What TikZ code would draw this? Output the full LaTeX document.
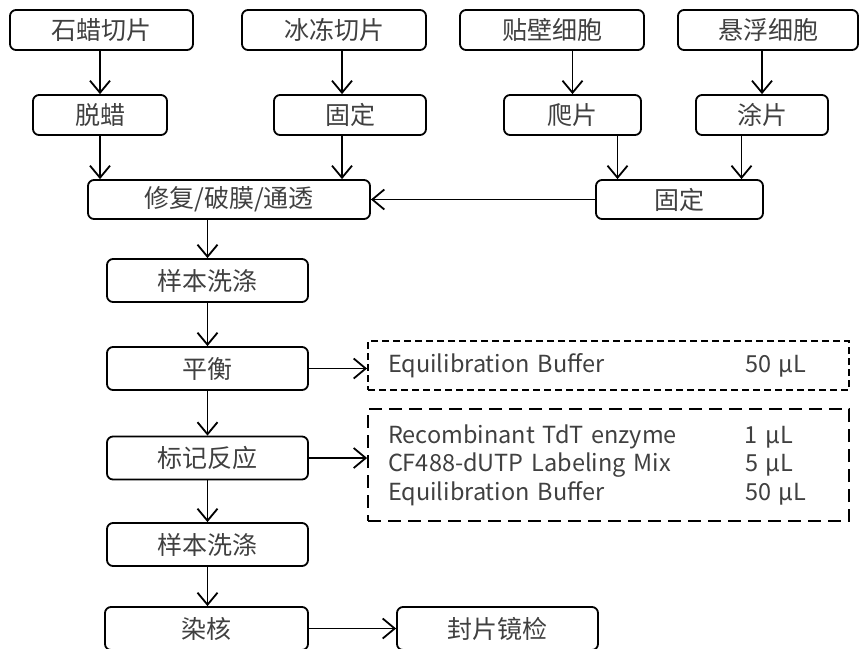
\documentclass[tikz,border=0pt]{standalone}
\usepackage{fontspec}
\setmainfont{Noto Sans CJK SC}
\usetikzlibrary{arrows.meta}
\definecolor{txtgray}{RGB}{64,64,64}
\tikzset{
  stepbox/.style={draw, rounded corners=6pt, line width=1.8pt, text=txtgray,
    font=\fontsize{25}{28}\selectfont, inner sep=0pt},
  reagent/.style={draw, line width=1.8pt, text=txtgray, align=left,
    font=\fontsize{23.5}{28.5}\selectfont, inner xsep=20pt, inner ysep=0pt, text width=441pt},
  arr/.style={-{Straight Barb[length=12pt,width=20pt]}, line width=1.8pt}
}

\begin{document}
\begin{tikzpicture}[x=1pt,y=-1pt]
\useasboundingbox (0,0) rectangle (859,648);
% sample types
\node[stepbox, minimum width=183pt, minimum height=40pt] (paraffin) at (101.5,30) {石蜡切片};
\node[stepbox, minimum width=184pt, minimum height=40pt] (frozen) at (334,30) {冰冻切片};
\node[stepbox, minimum width=184pt, minimum height=40pt] (adherent) at (552,30) {贴壁细胞};
\node[stepbox, minimum width=180pt, minimum height=40pt] (suspend) at (768,30) {悬浮细胞};
% pretreatment
\node[stepbox, minimum width=134pt, minimum height=40pt] (dewax) at (100,115) {脱蜡};
\node[stepbox, minimum width=152pt, minimum height=40pt] (fixA) at (350,115) {固定};
\node[stepbox, minimum width=137pt, minimum height=40pt] (climb) at (572.5,115) {爬片};
\node[stepbox, minimum width=132pt, minimum height=40pt] (smear) at (762,115) {涂片};
\node[stepbox, minimum width=282pt, minimum height=39pt] (repair) at (229,199.5) {修复/破膜/通透};
\node[stepbox, minimum width=167pt, minimum height=39pt] (fixB) at (679.5,199.5) {固定};
% main column
\node[stepbox, minimum width=201pt, minimum height=43pt] (wash1) at (207.5,280.5) {样本洗涤};
\node[stepbox, minimum width=201pt, minimum height=43pt] (balance) at (207.5,368.5) {平衡};
\node[stepbox, minimum width=201pt, minimum height=43pt] (label) at (207.5,458) {标记反应};
\node[stepbox, minimum width=201pt, minimum height=43pt] (wash2) at (207.5,544.5) {样本洗涤};
\node[stepbox, minimum width=203pt, minimum height=43pt] (stain) at (206.5,628.5) {染核};
\node[stepbox, minimum width=201pt, minimum height=43pt] (mount) at (497.5,628.5) {封片镜检};
% reagents
\node[reagent, dash pattern=on 7pt off 4pt, minimum height=49pt] (buf1) at (608.5,365.5)
  {\makebox[357pt][l]{Equilibration Buffer}50 µL};
\node[reagent, dash pattern=on 13pt off 7pt, minimum height=112pt] (buf2) at (608.5,465)
  {\makebox[357pt][l]{Recombinant TdT enzyme}1 µL\\
   \makebox[357pt][l]{CF488-dUTP Labeling Mix}5 µL\\
   \makebox[357pt][l]{Equilibration Buffer}50 µL};

\draw[arr] (paraffin.south -| dewax.north) -- (dewax.north);
\draw[arr] ([xshift=-8pt]fixA.north |- frozen.south) -- ([xshift=-8pt]fixA.north);
\draw[arr] (climb.north |- adherent.south) -- (climb.north);
\draw[arr] (smear.north |- suspend.south) -- (smear.north);
\draw[arr] (dewax.south) -- (dewax.south |- repair.north);
\draw[arr] ([xshift=-8pt]fixA.south) -- ([xshift=-8pt]fixA.south |- repair.north);
\draw[arr] ([xshift=-62pt]fixB.north |- climb.south) -- ([xshift=-62pt]fixB.north);
\draw[arr] ([xshift=62pt]fixB.north |- smear.south) -- ([xshift=62pt]fixB.north);
\draw[arr] (fixB.west) -- (repair.east);
\draw[arr] (wash1.north |- repair.south) -- (wash1.north);
\draw[arr] (wash1) -- (balance);
\draw[arr] (balance) -- (label);
\draw[arr] (label) -- (wash2);
\draw[arr] (wash2.south) -- (wash2.south |- stain.north);
\draw[arr] (balance.east) -- (balance.east -| buf1.west);
\draw[arr] (label.east) -- (label.east -| buf2.west);
\draw[arr] (stain) -- (mount);
\end{tikzpicture}
\end{document}
